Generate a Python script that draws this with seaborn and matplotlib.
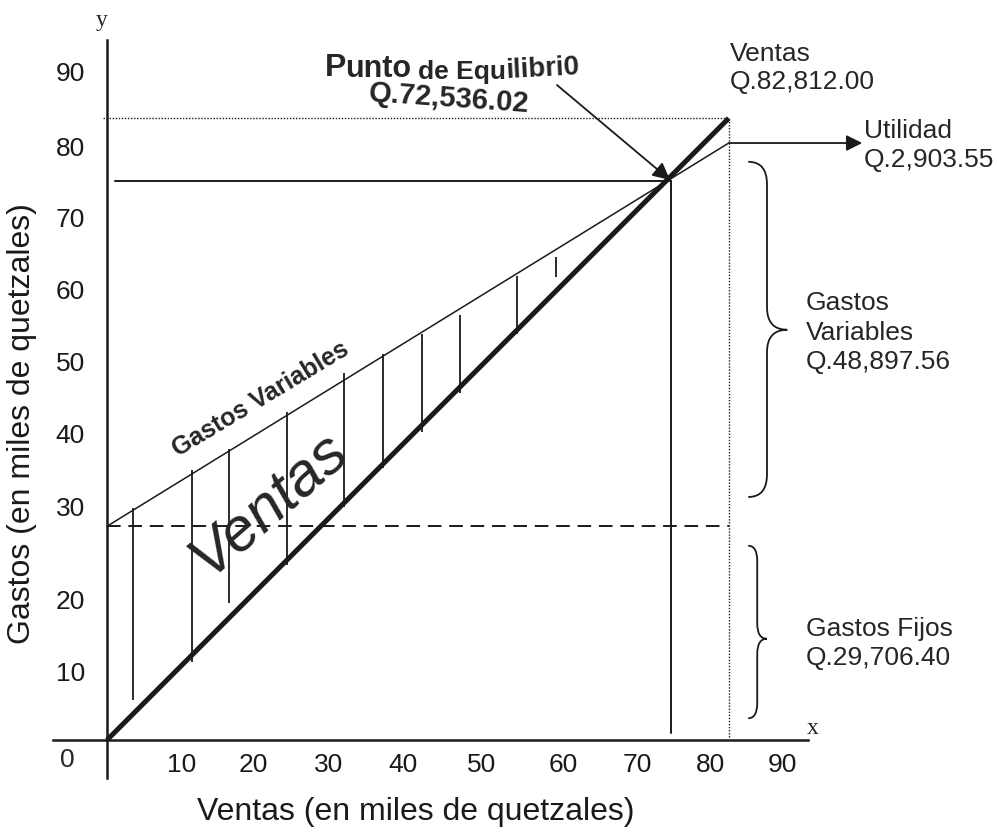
import matplotlib
matplotlib.use("Agg")
import matplotlib.pyplot as plt
from matplotlib.path import Path
from matplotlib.patches import PathPatch
import seaborn as sns
import pandas as pd

sns.set_theme(style="white")
plt.rcParams["font.family"] = ["Liberation Sans", "DejaVu Sans"]

# datos (miles de quetzales)
ventas_x = [0.0, 82.9]
ventas_y = [0.0, 82.9]
gastos_x = [0.0, 82.9]
gastos_y = [28.5, 79.6]
gastos_fijos = 28.5
equilibrio_x = 75.2
equilibrio_y = 74.5
limite_ventas = 82.9

# rayado entre las dos rectas
rayas_x = [3.5, 11.3, 16.3, 24.0, 31.6, 36.8, 42.0, 47.1, 54.7, 59.9]
rayas_arriba = [30.9, 36.0, 38.8, 43.7, 48.9, 51.5, 54.1, 56.7, 61.9, 64.4]
rayas_abajo = [5.3, 10.4, 18.3, 23.3, 31.1, 36.3, 41.1, 46.3, 54.1, 61.7]

# marcas de los ejes (posiciones como estan dibujadas)
xticks_pos = [10.0, 19.5, 29.6, 39.5, 50.0, 60.8, 70.7, 80.5, 90.1]
xticks_lbl = ["10", "20", "30", "40", "50", "60", "70", "80", "90"]
yticks_pos = [9.1, 18.7, 31.2, 40.9, 50.5, 60.1, 69.7, 79.2, 89.1]
yticks_lbl = ["10", "20", "30", "40", "50", "60", "70", "80", "90"]

df = pd.DataFrame({
    "x": ventas_x + gastos_x,
    "y": ventas_y + gastos_y,
    "serie": ["Ventas"] * 2 + ["Gastos"] * 2,
})

fig, ax = plt.subplots(figsize=(9.97, 8.33), dpi=100)
ax.set_position([0, 0, 1, 1])
ax.set_xlim(-14.27, 118.67)
ax.set_ylim(-12.4, 98.67)

# rectas principales
sns.lineplot(data=df[df.serie == "Ventas"], x="x", y="y", color="k", lw=3.6,
             solid_capstyle="butt", ax=ax, legend=False)
sns.lineplot(data=df[df.serie == "Gastos"], x="x", y="y", color="k", lw=1.1,
             ax=ax, legend=False)

# gastos fijos (punteado)
ax.plot([0, limite_ventas], [gastos_fijos, gastos_fijos], color="k", lw=1.4,
        linestyle=(0, (7, 4)))
# lineas de referencia
ax.plot([-0.5, limite_ventas], [limite_ventas, limite_ventas], color="k", lw=1.0,
        linestyle=(0, (1, 1.2)))
ax.plot([limite_ventas, limite_ventas], [0.4, limite_ventas], color="k", lw=1.0,
        linestyle=(0, (1, 1.2)))
ax.plot([1.0, equilibrio_x], [equilibrio_y, equilibrio_y], color="k", lw=1.4)
ax.plot([equilibrio_x, equilibrio_x], [0.9, equilibrio_y], color="k", lw=1.4)

ax.vlines(rayas_x, rayas_abajo, rayas_arriba, color="k", lw=1.3)

# ejes
for s in ["top", "right"]:
    ax.spines[s].set_visible(False)
ax.spines["left"].set_position(("data", 0))
ax.spines["bottom"].set_position(("data", 0))
ax.spines["left"].set_bounds(-5.1, 93.3)
ax.spines["bottom"].set_bounds(-7.2, 93.5)
for s in ["left", "bottom"]:
    ax.spines[s].set_color("k")
    ax.spines[s].set_linewidth(1.8)

ax.set_xticks(xticks_pos, xticks_lbl)
ax.set_yticks(yticks_pos, yticks_lbl)
ax.tick_params(axis="both", length=0, labelsize=19, colors="k")
ax.tick_params(axis="x", pad=9)
ax.tick_params(axis="y", pad=16)

ax.set_xlabel("Ventas (en miles de quetzales)", fontsize=23, color="k")
ax.xaxis.set_label_coords(0.417, 0.025)
ax.xaxis.label.set_va("center")
ax.set_ylabel("Gastos (en miles de quetzales)", fontsize=23, color="k")
ax.yaxis.set_label_coords(0.022, 0.492)
ax.yaxis.label.set_va("center")

ax.text(-5.33, -2.67, "0", fontsize=19, ha="center", va="center")
ax.text(94.1, 1.5, "x", fontsize=17, family="Liberation Serif", ha="center", va="center")
ax.text(-0.7, 95.9, "y", fontsize=17, family="Liberation Serif", ha="center", va="center")


def llave(x0, xs, xm, ytop, ymid, ybot, r):
    verts = [(x0, ytop), (xs, ytop), (xs, ytop - r), (xs, ymid + r),
             (xs, ymid), (xm, ymid), (xs, ymid), (xs, ymid - r),
             (xs, ybot + r), (xs, ybot), (x0, ybot)]
    codes = [Path.MOVETO, Path.CURVE3, Path.CURVE3, Path.LINETO,
             Path.CURVE3, Path.CURVE3, Path.CURVE3, Path.CURVE3,
             Path.LINETO, Path.CURVE3, Path.CURVE3]
    ax.add_patch(PathPatch(Path(verts, codes), fill=False, lw=1.3, ec="k"))


llave(85.5, 88.0, 90.7, 77.1, 54.7, 32.4, 3.0)
llave(85.5, 86.7, 88.0, 25.9, 13.5, 2.9, 2.0)

# flechas
ax.annotate("", xy=(75.07, 74.67), xytext=(60.0, 87.33),
            arrowprops=dict(arrowstyle="-|>", color="k", lw=1.3,
                            mutation_scale=26, shrinkA=0, shrinkB=0))
ax.annotate("", xy=(100.7, 79.6), xytext=(82.93, 79.6),
            arrowprops=dict(arrowstyle="-|>", color="k", lw=1.3,
                            mutation_scale=24, shrinkA=0, shrinkB=0))

# textos
ax.text(83.0, 89.6, "Ventas\nQ.82,812.00", fontsize=19, ha="left", va="center",
        linespacing=1.25)
ax.text(100.9, 79.3, "Utilidad\nQ.2,903.55", fontsize=19, ha="left", va="center",
        linespacing=1.25)
ax.text(93.2, 54.3, "Gastos\nVariables\nQ.48,897.56", fontsize=19, ha="left",
        va="center", linespacing=1.3)
ax.text(93.2, 12.9, "Gastos Fijos\nQ.29,706.40", fontsize=19, ha="left",
        va="center", linespacing=1.25)

ax.text(29.0, 88.6, "P", fontsize=23, fontweight="bold", va="baseline")
ax.text(31.8, 88.4, "unto", fontsize=22, fontweight="bold", va="baseline")
ax.text(41.4, 88.2, "de Equ", fontsize=19, fontweight="bold", va="baseline")
ax.text(53.2, 88.3, "ilibri0", fontsize=20, fontweight="bold", va="baseline",
        rotation=3, rotation_mode="anchor")
ax.text(45.6, 85.5, "Q.72,536.02", fontsize=21, fontweight="bold", ha="center",
        va="center", rotation=-4)

ax.text(20.5, 45.5, "Gastos Variables", fontsize=18, fontweight="bold",
        ha="center", va="center", rotation=31)
ax.text(21.6, 31.4, "Ventas", fontsize=44, fontstyle="italic",
        ha="center", va="center", rotation=41)

fig.savefig("out.png", dpi=100)
